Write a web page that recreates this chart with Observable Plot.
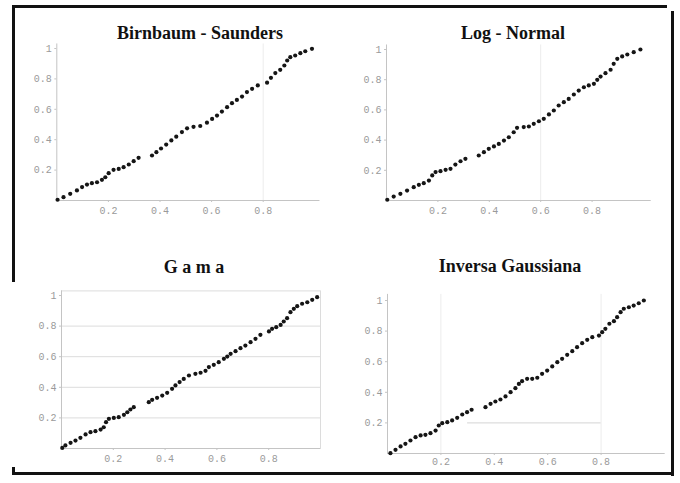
<!DOCTYPE html>
<html>
<head>
<meta charset="utf-8">
<script src="https://cdn.jsdelivr.net/npm/d3@7"></script>
<script src="https://cdn.jsdelivr.net/npm/@observablehq/plot@0.6"></script>
<style>
  body { margin: 0; background: #fff; }
  #root { position: relative; width: 680px; height: 483px; overflow: hidden; background: #fff; }
  .b { position: absolute; background: #111; }
  .t { position: absolute; font-family: "Liberation Serif", "Times New Roman", serif; font-weight: bold;
       font-size: 18px; color: #111; white-space: pre; transform: translate(-50%, -50%); line-height: 1; }
  .p { position: absolute; }
</style>
</head>
<body>
<div id="root"></div>
<script>
// ---------- data ----------
const titles = ["Birnbaum - Saunders", "Log - Normal", "G a m a", "Inversa Gaussiana"];

const xTicks = [0.2, 0.4, 0.6, 0.8];
const yTicks = [0.2, 0.4, 0.6, 0.8, 1];

// Birnbaum - Saunders
const bsX = [0.003,0.026,0.052,0.078,0.098,0.117,0.136,0.156,0.175,0.188,0.201,0.220,0.240,0.259,0.279,0.298,0.317,0.369,0.386,0.404,0.424,0.444,0.463,0.485,0.505,0.530,0.556,0.582,0.602,0.621,0.640,0.660,0.679,0.698,0.718,0.737,0.757,0.779,0.815,0.830,0.847,0.866,0.882,0.893,0.905,0.924,0.944,0.963,0.989];
const bsY = [0.005,0.022,0.044,0.066,0.088,0.105,0.114,0.120,0.136,0.153,0.180,0.202,0.208,0.219,0.237,0.259,0.281,0.296,0.318,0.342,0.368,0.395,0.420,0.450,0.475,0.485,0.490,0.512,0.537,0.559,0.585,0.614,0.640,0.662,0.684,0.713,0.735,0.757,0.775,0.807,0.838,0.860,0.888,0.921,0.943,0.954,0.969,0.982,0.998];

// Log - Normal
const lnX = [0.003,0.028,0.054,0.080,0.106,0.126,0.145,0.165,0.178,0.191,0.210,0.230,0.249,0.268,0.288,0.307,0.359,0.379,0.398,0.418,0.437,0.457,0.476,0.495,0.508,0.534,0.554,0.573,0.593,0.612,0.632,0.651,0.670,0.690,0.709,0.729,0.748,0.768,0.787,0.807,0.820,0.833,0.852,0.872,0.884,0.898,0.917,0.937,0.962,0.988];
const lnY = [0.005,0.026,0.044,0.066,0.088,0.104,0.115,0.132,0.166,0.188,0.194,0.203,0.210,0.238,0.260,0.276,0.298,0.320,0.342,0.358,0.375,0.397,0.419,0.452,0.481,0.486,0.490,0.508,0.525,0.541,0.570,0.596,0.629,0.651,0.673,0.702,0.728,0.750,0.762,0.773,0.799,0.821,0.843,0.866,0.905,0.938,0.954,0.967,0.982,1.000];

// Gama
const gmX = [0.003,0.015,0.035,0.054,0.073,0.093,0.112,0.131,0.151,0.163,0.172,0.183,0.202,0.221,0.241,0.254,0.266,0.279,0.337,0.350,0.369,0.389,0.408,0.427,0.440,0.456,0.472,0.492,0.517,0.537,0.556,0.569,0.588,0.607,0.627,0.640,0.653,0.672,0.691,0.710,0.730,0.749,0.768,0.801,0.813,0.829,0.846,0.858,0.871,0.884,0.897,0.910,0.929,0.949,0.968,0.987];
const gmY = [0.004,0.020,0.037,0.052,0.070,0.092,0.107,0.113,0.124,0.139,0.172,0.194,0.200,0.205,0.220,0.237,0.255,0.270,0.303,0.318,0.331,0.346,0.364,0.390,0.412,0.434,0.455,0.477,0.488,0.495,0.508,0.532,0.547,0.564,0.586,0.601,0.619,0.636,0.656,0.673,0.695,0.717,0.743,0.765,0.782,0.793,0.808,0.830,0.852,0.891,0.913,0.930,0.946,0.956,0.972,0.989];

// Inversa Gaussiana
const igX = [0.011,0.030,0.049,0.067,0.086,0.105,0.124,0.142,0.161,0.180,0.192,0.205,0.224,0.242,0.261,0.280,0.298,0.315,0.367,0.386,0.404,0.423,0.442,0.461,0.479,0.492,0.504,0.523,0.542,0.561,0.579,0.598,0.617,0.636,0.654,0.673,0.692,0.710,0.729,0.748,0.767,0.792,0.804,0.816,0.831,0.848,0.860,0.873,0.885,0.904,0.922,0.941,0.960];
const igY = [0.002,0.024,0.046,0.063,0.085,0.107,0.118,0.122,0.133,0.150,0.183,0.198,0.205,0.216,0.233,0.255,0.270,0.286,0.303,0.325,0.340,0.353,0.373,0.401,0.427,0.455,0.473,0.488,0.488,0.495,0.521,0.542,0.569,0.597,0.619,0.645,0.669,0.695,0.721,0.743,0.760,0.771,0.793,0.815,0.848,0.865,0.891,0.924,0.946,0.956,0.967,0.982,1.000];

// faint grid lines visible in the picture
const bsGridX = [0.8];
const lnGridX = [0.6];
const gmGridY = [0.2, 0.4, 0.6, 0.8];
const igGridX = [0.2, 0.8];
const igGridY = [0.2];

// ---------- layout ----------
const panels = [
  {title: titles[0], xs: bsX, ys: bsY, tx: 200, ty: 33,
   left: 15, top: 38, width: 310, height: 182, x0: 56.3, sx: 258, y0: 200, sy: 152, xMax: 1.02, yMax: 1.03,
   gridX: bsGridX, gridY: [], frame: false, pad: 4},
  {title: titles[1], xs: lnX, ys: lnY, tx: 513, ty: 33,
   left: 345, top: 38, width: 320, height: 182, x0: 386, sx: 257, y0: 200, sy: 151, xMax: 1.03, yMax: 1.03,
   gridX: lnGridX, gridY: [], frame: false, pad: 4},
  {title: titles[2], xs: gmX, ys: gmY, tx: 194, ty: 267,
   left: 15, top: 285, width: 310, height: 182, x0: 61, sx: 259, y0: 448, sy: 153, xMax: 1.0, yMax: 1.03,
   gridX: [], gridY: gmGridY, frame: true, pad: 4},
  {title: titles[3], xs: igX, ys: igY, tx: 510, ty: 266,
   left: 345, top: 288, width: 320, height: 183, x0: 387, sx: 267, y0: 453, sy: 153, xMax: 1.04, yMax: 1.04,
   gridX: igGridX, gridY: [], frame: false, partialY: igGridY, pad: 2}
];

const root = document.getElementById("root");

function addDiv(cls, css, text) {
  const d = document.createElement("div");
  d.className = cls;
  Object.assign(d.style, css);
  if (text != null) d.textContent = text;
  root.appendChild(d);
  return d;
}

for (const p of panels) {
  const data = p.xs.map((x, i) => ({x, y: p.ys[i]}));
  const marks = [];
  if (p.frame) marks.push(Plot.frame({stroke: "#dcdcdc"}));
  if (p.gridY.length) marks.push(Plot.ruleY(p.gridY, {stroke: "#dcdcdc"}));
  if (p.gridX.length) marks.push(Plot.ruleX(p.gridX, {stroke: "#ececec"}));
  if (p.partialY) marks.push(Plot.ruleY(p.partialY, {x1: 0.3, x2: 0.8, stroke: "#d4d4d4"}));
  marks.push(Plot.ruleX([0], {stroke: "#c4c4c4"}));
  marks.push(Plot.ruleY([0], {stroke: "#c4c4c4"}));
  marks.push(Plot.axisX({ticks: xTicks, tickSize: 2, tickPadding: p.pad, label: null, tickFormat: d => String(d), stroke: "#c4c4c4"}));
  marks.push(Plot.axisY({ticks: yTicks, tickSize: 2, tickPadding: 3, label: null, tickFormat: d => String(d), stroke: "#c4c4c4"}));
  marks.push(Plot.dot(data, {x: "x", y: "y", r: 2.1, fill: "#151515", stroke: null}));

  const svg = Plot.plot({
    width: p.width,
    height: p.height,
    marginLeft: p.x0 - p.left,
    marginRight: p.left + p.width - (p.x0 + p.sx * p.xMax),
    marginTop: (p.y0 - p.sy * p.yMax) - p.top,
    marginBottom: p.top + p.height - p.y0,
    x: {domain: [0, p.xMax]},
    y: {domain: [0, p.yMax]},
    style: {color: "#9a9a9a", fontFamily: "'Liberation Mono', 'DejaVu Sans Mono', monospace", fontSize: "10px", background: "transparent"},
    marks
  });
  const holder = addDiv("p", {left: p.left + "px", top: p.top + "px", width: p.width + "px", height: p.height + "px"});
  holder.appendChild(svg);
  addDiv("t", {left: p.tx + "px", top: p.ty + "px"}, p.title);
}

// scanned outer border (with its broken left edge)
addDiv("b", {left: "12px", top: "5px", width: "655px", height: "3px"});
addDiv("b", {left: "671px", top: "11px", width: "3px", height: "465px"});
addDiv("b", {left: "12px", top: "472px", width: "662px", height: "3px"});
addDiv("b", {left: "12px", top: "5px", width: "3px", height: "277px"});
addDiv("b", {left: "12px", top: "467px", width: "3px", height: "8px"});
</script>
</body>
</html>
